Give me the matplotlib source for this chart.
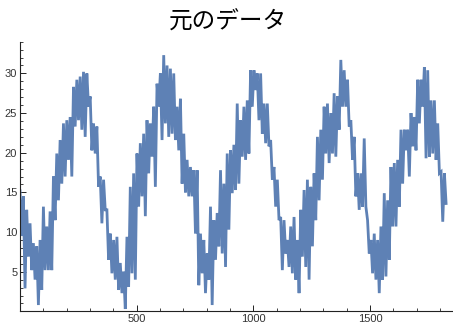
import numpy as np
import matplotlib
matplotlib.use("Agg")
import matplotlib.pyplot as plt
from matplotlib.ticker import MultipleLocator

# values, alternating high / low every ~7 days
year1 = [15.2, 9.5, 14.5, 2.9, 12.8, 6.9, 11.1, 5.2, 8.6, 4.0, 8.2, 0.8,
         9.0, 2.7, 13.2, 5.2, 10.7, 5.2, 12.6, 5.2, 17.0, 11.5, 19.9, 14.0,
         21.6, 16.1, 23.7, 17.0, 24.1, 19.1, 24.5, 17.0, 28.3, 23.3, 29.2, 24.1,
         29.6, 22.9, 30.2, 22.0, 30.0, 25.8]
year2 = [27.1, 20.3, 23.7, 19.9, 23.3, 15.7, 17.0, 11.1, 16.6, 12.8, 12.8, 6.5,
         9.8, 4.8, 9.0, 4.0, 9.4, 2.7, 6.1, 2.3, 5.0, 0.3, 9.4, 3.1,
         15.7, 4.8, 17.4, 4.0, 19.9, 13.2, 21.2, 14.5, 22.4, 12.0, 24.1, 17.4,
         23.7, 19.5, 25.8, 15.7, 28.7, 25.8]
year3 = [30.0, 21.6, 32.3, 23.7, 31.0, 22.0, 30.6, 22.4, 30.0, 21.6, 25.8, 20.3,
         26.8, 16.1, 22.4, 15.0, 19.1, 14.5, 18.2, 14.5, 17.8, 9.8, 17.8, 3.3,
         9.8, 4.8, 9.0, 2.3, 7.3, 4.0, 13.2, 0.8, 11.5, 6.5, 12.4, 8.2,
         17.8, 7.3, 16.1, 5.6, 19.9, 10.3, 20.3, 14.9]
year4 = [21.0, 15.3, 26.2, 16.1, 24.1, 19.5, 25.8, 19.1, 26.6, 19.9, 30.4, 25.8,
         30.4, 27.9, 30.0, 24.1, 30.0, 22.4, 26.2, 21.2, 26.2, 20.8, 21.6, 16.6,
         18.2, 13.2, 16.6, 11.5, 11.9, 5.2, 11.5, 7.3, 9.0, 5.6, 10.7, 4.8,
         11.9, 4.0, 9.0, 2.3, 12.8, 6.9, 15.3, 5.6]
year5 = [16.6, 4.0, 15.7, 8.2, 17.4, 11.5, 22.0, 14.0, 22.9, 16.6, 25.8, 19.9,
         26.2, 18.7, 25.0, 19.9, 27.5, 19.5, 27.1, 22.9, 31.7, 25.8, 30.4, 25.8,
         29.2, 23.3, 24.1, 19.1, 22.0, 14.5, 17.4, 12.8, 17.4, 13.2, 21.8, 13.2,
         11.5, 7.3, 9.0, 4.8, 9.8, 4.0, 9.0, 2.3]
year6 = [10.7, 4.0, 14.9, 4.4, 14.0, 6.5, 18.2, 10.7, 18.7, 10.7, 19.1, 13.2,
         22.9, 16.1, 22.9, 20.3, 22.9, 17.0, 25.0, 20.8, 24.5, 20.3, 29.2, 23.7,
         29.2, 25.8, 30.8, 19.3, 30.4, 19.5, 26.6, 19.9, 26.6, 19.1, 23.7, 17.4,
         17.6, 11.3, 17.4, 13.6]

values = year1 + year2 + year3 + year4 + year5 + year6
n_days = 1826


def main():
    days = np.linspace(0, n_days, len(values))

    fig = plt.figure(figsize=(4.53, 3.22), dpi=100)
    ax = fig.add_axes([0.0442, 0.033, 0.956, 0.8376])
    ax.plot(days, values, color="#5E81B5", linewidth=2.0,
            solid_joinstyle="miter")

    ax.set_xlim(0, 1856)
    ax.set_ylim(0, 34)
    for side in ["top", "right"]:
        ax.spines[side].set_visible(False)
    for side in ["left", "bottom"]:
        ax.spines[side].set_color("#222222")
        ax.spines[side].set_linewidth(0.8)

    ax.xaxis.set_major_locator(MultipleLocator(500))
    ax.xaxis.set_minor_locator(MultipleLocator(100))
    ax.yaxis.set_major_locator(MultipleLocator(5))
    ax.yaxis.set_minor_locator(MultipleLocator(1))
    ax.set_yticks([5, 10, 15, 20, 25, 30])
    ax.set_xticks([500, 1000, 1500])
    ax.tick_params(which="both", direction="in", color="#222222",
                   labelcolor="#333333", labelsize=8)
    ax.tick_params(which="major", length=4, width=0.7)
    ax.tick_params(which="minor", length=2.2, width=0.6)
    ax.tick_params(axis="y", pad=2)
    ax.tick_params(axis="x", pad=2)
    for lab in ax.get_xticklabels() + ax.get_yticklabels():
        lab.set_family("Liberation Sans")

    fig.text(0.503, 0.932, "元のデータ", ha="center", va="center",
             fontsize=17, family=["Noto Sans CJK JP", "DejaVu Sans"])

    fig.savefig("out.png", dpi=100)


if __name__ == "__main__":
    main()
